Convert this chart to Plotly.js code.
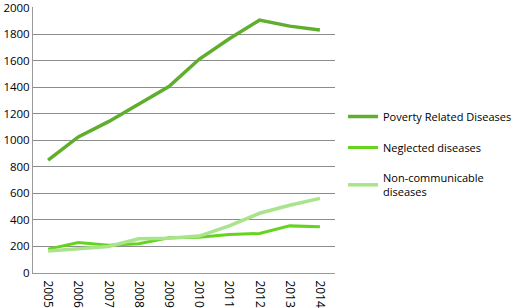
<!DOCTYPE html>
<html><head><meta charset="utf-8">
<script src="https://cdn.plot.ly/plotly-3.0.1.min.js"></script>
<style>html,body{margin:0;padding:0;background:#fff}#c{width:512px;height:308px}</style>
</head><body><div id="c"></div>
<script>
const years = ['2005','2006','2007','2008','2009','2010','2011','2012','2013','2014'];
const poverty = [850,1025,1140,1270,1405,1610,1765,1905,1860,1830];
const neglected = [180,230,210,220,265,270,290,298,355,348];
const noncomm = [165,185,200,258,262,278,355,450,510,562];
const names = ['Poverty Related Diseases','Neglected diseases','Non-communicable<br>diseases'];

const traces = [
  {x:years,y:poverty,name:names[0],type:'scatter',mode:'lines',line:{color:'#5FAE2E',width:3.5},legendgroup:'a'},
  {x:years,y:neglected,name:names[1],type:'scatter',mode:'lines',line:{color:'#66D41E',width:3},legendgroup:'b'},
  {x:years,y:noncomm,name:names[2],type:'scatter',mode:'lines',line:{color:'#A9E48C',width:3.5},legendgroup:'c'}
];
const layout = {
  width:512,height:308,
  margin:{l:33,r:177,t:7,b:35},
  paper_bgcolor:'#fff',plot_bgcolor:'#fff',
  font:{family:'Open Sans, sans-serif',size:11,color:'#000'},
  showlegend:true,
  legend:{xref:'container',yref:'container',x:343/512,y:1-102/308,xanchor:'left',yanchor:'top',
    traceorder:'grouped',tracegroupgap:12,font:{size:11,color:'#000'},bgcolor:'rgba(0,0,0,0)'},
  xaxis:{type:'category',range:[-0.5,9.5],tickangle:90,showgrid:false,showline:true,linecolor:'#999',linewidth:1,
    ticks:'',tickfont:{size:12},ticklabelstandoff:4,zeroline:false},
  yaxis:{range:[0,2004],tickmode:'linear',tick0:0,dtick:200,showgrid:true,gridcolor:'#8c8c8c',gridwidth:1,showline:true,
    linecolor:'#999',linewidth:1,ticks:'',tickfont:{size:11.5},ticklabeloverflow:'allow',zeroline:false,fixedrange:true}
};
Plotly.newPlot('c',traces,layout,{displayModeBar:false,staticPlot:true});
</script></body></html>
